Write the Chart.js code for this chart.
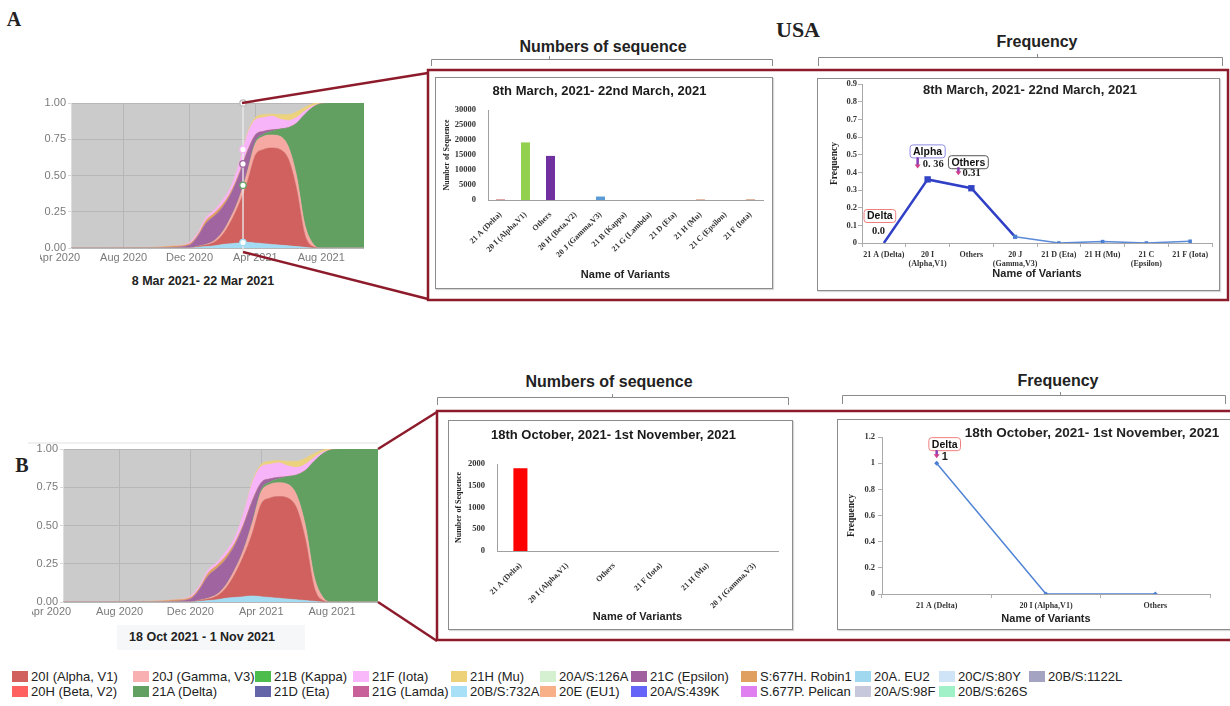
<!DOCTYPE html>
<html>
<head>
<meta charset="utf-8">
<script src="https://cdn.jsdelivr.net/npm/chart.js@4.4.1/dist/chart.umd.min.js"></script>
<style>
  body { margin: 0; background: #fff; }
  #page { position: relative; width: 1230px; height: 706px; overflow: hidden; font-family: "Liberation Sans", Arial, sans-serif; color: #222; }
  canvas { position: absolute; }
  .t { position: absolute; transform: translate(-50%, -50%); white-space: nowrap; }
  .box { position: absolute; border: 1px solid #8c8c8c; box-shadow: 1px 1px 1px rgba(0,0,0,0.15); background: #fff; }
  svg.overlay { position: absolute; left: 0; top: 0; z-index: 5; pointer-events: none; }
  .legend-item { position: absolute; font-size: 13px; line-height: 14px; white-space: nowrap; color: #222; }
  .legend-item span { display: inline-block; width: 16px; height: 11px; margin-right: 3px; vertical-align: -1px; }
  .caption-bg { position: absolute; background: #f6f7f9; }
</style>
</head>
<body>
<div id="page">
  <div class="t" style="left:14px;top:19px;font:bold 20px 'Liberation Serif',serif;">A</div>
  <div class="t" style="left:22px;top:465px;font:bold 20px 'Liberation Serif',serif;">B</div>
  <div class="t" style="left:798px;top:30px;font:bold 22px 'Liberation Serif',serif;">USA</div>
  <div class="t" style="left:603px;top:47px;font:bold 16px 'Liberation Sans',Arial;">Numbers of sequence</div>
  <div class="t" style="left:1037px;top:42px;font:bold 16px 'Liberation Sans',Arial;">Frequency</div>
  <div class="t" style="left:609px;top:382px;font:bold 16px 'Liberation Sans',Arial;">Numbers of sequence</div>
  <div class="t" style="left:1058px;top:381px;font:bold 16px 'Liberation Sans',Arial;">Frequency</div>

  <canvas id="areaA" width="340" height="175" style="left:40px;top:95px;"></canvas>
  <div class="t" style="left:203px;top:281px;font:bold 12.5px 'Liberation Sans',Arial;">8 Mar 2021- 22 Mar 2021</div>

  <div style="position:absolute;left:28px;top:442px;width:350px;height:2px;background:#eef0f2;"></div>
  <canvas id="areaB" width="358" height="184" style="left:32px;top:440px;"></canvas>
  <div class="caption-bg" style="left:117px;top:625px;width:188px;height:25px;"></div>
  <div class="t" style="left:202px;top:637px;font:bold 12.5px 'Liberation Sans',Arial;">18 Oct 2021 - 1 Nov 2021</div>

  <div class="box" style="left:435px;top:77px;width:336px;height:210px;"></div>
  <canvas id="barA" width="336" height="210" style="left:436px;top:78px;"></canvas>

  <div class="box" style="left:817px;top:78px;width:401px;height:211px;"></div>
  <canvas id="lineA" width="400" height="210" style="left:818px;top:79px;"></canvas>
  <div class="t" style="left:1030px;top:89px;font:bold 13px 'Liberation Sans',Arial;z-index:3;">8th March, 2021- 22nd March, 2021</div>

  <div class="box" style="left:448px;top:420px;width:343px;height:208px;"></div>
  <canvas id="barB" width="342" height="207" style="left:449px;top:421px;"></canvas>

  <div class="box" style="left:837px;top:419px;width:420px;height:209px;"></div>
  <canvas id="lineB" width="392" height="208" style="left:838px;top:420px;"></canvas>
  <div class="t" style="left:1092px;top:432px;font:bold 13.5px 'Liberation Sans',Arial;z-index:3;">18th October, 2021- 1st November, 2021</div>

  <svg class="overlay" width="1230" height="706">
    <g stroke="#8d1b2b" stroke-width="2.5" fill="none">
      <line x1="242" y1="103" x2="428" y2="73"/>
      <line x1="243" y1="252" x2="428" y2="299"/>
      <rect x="428" y="70" width="800" height="230"/>
      <line x1="378" y1="449" x2="437" y2="412"/>
      <line x1="378" y1="602" x2="437" y2="641"/>
      <path d="M1240 411 H437 V640 H1240"/>
    </g>
    <g stroke="#8a8a8a" stroke-width="1" fill="none">
      <path d="M431.5 66 V59.5 H772.5 V66 M549.5 59.5 V56"/>
      <path d="M818.5 66 V57.5 H1222.5 V66 M1037.5 57.5 V54"/>
      <path d="M437.5 405 V397.5 H788.5 V405 M612.5 397.5 V394"/>
      <path d="M842.5 404 V395.5 H1225.5 V404 M1060.5 395.5 V392"/>
    </g>
  </svg>

  <div id="legend"></div>
</div>

<script>
const SANS = '"Liberation Sans", Arial, sans-serif';
const SERIF = '"Liberation Serif", "Times New Roman", serif';
Chart.defaults.font.family = SANS;
Chart.defaults.animation = false;

// clade shares over time (months counted from Jan 2020)
const areaMonths   = [3.8, 6, 8, 9, 10, 11, 11.5, 12, 12.5, 13, 13.5, 14, 14.5, 15, 15.5, 16, 16.5, 17, 17.5, 18, 18.5, 19, 20, 21.6];
const areaTickMonths = [3, 7, 11, 15, 19];
const areaTickLabels = ['Apr 2020', 'Aug 2020', 'Dec 2020', 'Apr 2021', 'Aug 2021'];
const share732A    = [0, 0, 0, 0, 0, 0, 0.005, 0.01, 0.015, 0.025, 0.03, 0.035, 0.04, 0.035, 0.03, 0.025, 0.02, 0.015, 0.01, 0.005, 0, 0, 0, 0];
const shareAlpha   = [0, 0, 0, 0, 0, 0, 0.005, 0.01, 0.025, 0.065, 0.15, 0.265, 0.41, 0.605, 0.65, 0.665, 0.66, 0.60, 0.40, 0.09, 0.01, 0, 0, 0];
const shareGamma   = [0, 0, 0, 0, 0, 0, 0.002, 0.005, 0.01, 0.02, 0.03, 0.04, 0.07, 0.08, 0.09, 0.09, 0.09, 0.085, 0.09, 0.07, 0.02, 0, 0, 0];
const shareDelta   = [0, 0, 0, 0, 0, 0, 0, 0, 0, 0, 0, 0, 0.005, 0.015, 0.015, 0.025, 0.05, 0.13, 0.36, 0.755, 0.94, 0.995, 1, 1];
const shareEpsilon = [0, 0, 0, 0, 0.005, 0.02, 0.068, 0.145, 0.17, 0.17, 0.16, 0.16, 0.135, 0.045, 0.02, 0.01, 0, 0, 0, 0, 0, 0, 0, 0];
const shareRobin1  = [0, 0, 0.003, 0.005, 0.008, 0.01, 0.01, 0.02, 0.02, 0.02, 0.015, 0.01, 0.005, 0, 0, 0, 0, 0, 0, 0, 0, 0, 0, 0];
const shareIota    = [0, 0, 0, 0, 0, 0.01, 0.015, 0.02, 0.02, 0.03, 0.035, 0.07, 0.115, 0.105, 0.095, 0.095, 0.07, 0.05, 0.04, 0.025, 0.01, 0, 0, 0];
const shareMu      = [0, 0, 0, 0, 0, 0, 0, 0, 0, 0, 0, 0, 0.01, 0.015, 0.02, 0.015, 0.03, 0.04, 0.04, 0.025, 0.015, 0.005, 0, 0];
const areaSeries = [
  ['20B/S:732A', share732A, '#a3dcf2'],
  ['20I (Alpha, V1)', shareAlpha, '#d0615e'],
  ['20J (Gamma, V3)', shareGamma, '#f6a9a3'],
  ['21A (Delta)', shareDelta, '#62a062'],
  ['21C (Epsilon)', shareEpsilon, '#a064a0'],
  ['S:677H. Robin1', shareRobin1, '#e0a060'],
  ['21F (Iota)', shareIota, '#f8b4f8'],
  ['21H (Mu)', shareMu, '#ecd27c']
];
const hoverMonth = 14.25;

// sequence counts, 8-22 March 2021
const variantsA = ['21 A (Delta)', '20 I (Alpha,V1)', 'Others', '20 H (Beta,V2)', '20 J (Gamma,V3)', '21 B (Kappa)', '21 G (Lambda)', '21 D (Eta)', '21 H (Mu)', '21 C (Epsilon)', '21 F (Iota)'];
const countsA = [170, 19200, 14700, 0, 1150, 0, 0, 0, 180, 0, 200];
const barColorsA = ['#c0504d', '#92d050', '#7030a0', '#4f81bd', '#5b9bd5', '#9bbb59', '#8064a2', '#4bacc6', '#c8825a', '#f79646', '#c8825a'];

// frequency, 8-22 March 2021
const freqVariantsA = [['21 A (Delta)'], ['20 I', '(Alpha,V1)'], ['Others'], ['20 J', '(Gamma,V3)'], ['21 D (Eta)'], ['21 H (Mu)'], ['21 C', '(Epsilon)'], ['21 F (Iota)']];
const freqA = [0.0, 0.36, 0.31, 0.035, 0, 0.008, 0, 0.01];

// sequence counts and frequency, 18 Oct - 1 Nov 2021
const variantsB = ['21 A (Delta)', '20 I (Alpha,V1)', 'Others', '21 F (Iota)', '21 H (Mu)', '20 J (Gamma,V3)'];
const countsB = [1900, 0, 0, 0, 0, 0];
const freqVariantsB = ['21 A (Delta)', '20 I (Alpha,V1)', 'Others'];
const freqB = [1, 0, 0];

const legendRow1 = ['20I (Alpha, V1)', '20J (Gamma, V3)', '21B (Kappa)', '21F (Iota)', '21H (Mu)', '20A/S:126A', '21C (Epsilon)', 'S:677H. Robin1', '20A. EU2', '20C/S:80Y', '20B/S:1122L'];
const legendColors1 = ['#d0615e', '#f8b0b0', '#4cbc4c', '#f9b8f9', '#eed27a', '#d4f0d0', '#a060a0', '#e0a060', '#a0d8f0', '#d0e4f8', '#a4a4c2'];
const legendRow2 = ['20H (Beta, V2)', '21A (Delta)', '21D (Eta)', '21G (Lamda)', '20B/S:732A', '20E (EU1)', '20A/S:439K', 'S.677P. Pelican', '20A/S:98F', '20B/S:626S'];
const legendColors2 = ['#ff6060', '#62a062', '#6464a8', '#c8609a', '#a8e0f8', '#f8b088', '#6464f8', '#e080f0', '#c8c8dc', '#a0f0c8'];
const legendCols = [12, 133, 255, 353, 451, 540, 631, 741, 855, 939, 1029];

// ---------- helpers ----------
const fixY = (w) => (scale) => { scale.width = w; scale.paddingTop = 0; scale.paddingBottom = 0; };
const fixX = (h) => (scale) => { scale.height = h; scale.paddingLeft = 0; scale.paddingRight = 0; };
const serifBold = (size) => ({ family: SERIF, size: size, weight: 'bold' });

const plotBackground = {
  id: 'plotBackground',
  beforeDraw(chart, args, opts) {
    if (!opts.color) return;
    const { ctx, chartArea: a } = chart;
    ctx.save();
    ctx.fillStyle = opts.color;
    ctx.fillRect(a.left, a.top, a.right - a.left, a.bottom - a.top);
    ctx.restore();
  }
};

function shareAt(arr, month) {
  for (let i = 0; i < areaMonths.length - 1; i++) {
    if (month >= areaMonths[i] && month <= areaMonths[i + 1]) {
      const f = (month - areaMonths[i]) / (areaMonths[i + 1] - areaMonths[i]);
      return arr[i] + (arr[i + 1] - arr[i]) * f;
    }
  }
  return 0;
}

// hover guide with markers on the stacked boundaries
const hoverGuide = {
  id: 'hoverGuide',
  afterDatasetsDraw(chart, args, opts) {
    if (!opts.month) return;
    const { ctx, chartArea: a, scales: { x, y } } = chart;
    const px = x.getPixelForValue(opts.month);
    ctx.save();
    ctx.strokeStyle = 'rgba(235,235,235,0.9)';
    ctx.lineWidth = 1.5;
    ctx.beginPath();
    ctx.moveTo(px, a.top);
    ctx.lineTo(px, a.bottom + 4);
    ctx.stroke();
    let sum = 0;
    const tops = [];
    areaSeries.forEach((s, k) => {
      sum += shareAt(s[1], opts.month);
      if (opts.marks.includes(k)) tops.push([sum, s[2]]);
    });
    tops.push([1, '#ffffff']);
    tops.forEach(([v, c]) => {
      ctx.beginPath();
      ctx.arc(px, y.getPixelForValue(v), 3.2, 0, Math.PI * 2);
      ctx.fillStyle = '#ffffff';
      ctx.fill();
      ctx.strokeStyle = c === '#ffffff' ? '#bbbbbb' : c;
      ctx.lineWidth = 1.3;
      ctx.stroke();
    });
    ctx.restore();
  }
};

// labelled arrows pointing at frequency points
const callouts = {
  id: 'callouts',
  afterDatasetsDraw(chart, args, opts) {
    const items = opts.items || [];
    const { ctx } = chart;
    const meta = chart.getDatasetMeta(0);
    ctx.save();
    items.forEach(it => {
      const pt = meta.data[it.index];
      const px = pt.x, py = pt.y;
      ctx.font = 'bold 10.5px ' + SANS;
      const w = ctx.measureText(it.name).width + 6, h = 13;
      const bx = px + it.box[0] - w / 2, by = py + it.box[1] - h / 2;
      ctx.beginPath();
      ctx.roundRect(bx, by, w, h, 3);
      ctx.fillStyle = '#fff';
      ctx.fill();
      ctx.strokeStyle = it.stroke;
      ctx.lineWidth = 1;
      ctx.stroke();
      ctx.fillStyle = '#111';
      ctx.textAlign = 'center';
      ctx.textBaseline = 'middle';
      ctx.fillText(it.name, px + it.box[0], py + it.box[1] + 0.5);
      if (it.arrow) {
        const ax = px + it.arrow[0], y1 = py + it.arrow[1], y2 = py + it.arrow[2];
        ctx.strokeStyle = '#8a3cb4';
        ctx.lineWidth = 2.5;
        ctx.beginPath();
        ctx.moveTo(ax, y1);
        ctx.lineTo(ax, y2 - 3);
        ctx.stroke();
        ctx.fillStyle = '#d2408c';
        ctx.beginPath();
        ctx.moveTo(ax - 3, y2 - 4);
        ctx.lineTo(ax + 3, y2 - 4);
        ctx.lineTo(ax, y2);
        ctx.closePath();
        ctx.fill();
      }
      ctx.font = it.valueFont;
      ctx.fillStyle = '#222';
      ctx.textAlign = 'left';
      ctx.fillText(it.valueText, px + it.text[0], py + it.text[1]);
    });
    ctx.restore();
  }
};

// ---------- stacked clade share charts ----------
function makeArea(id, yW, padTop, padRight, xH, withHover) {
  const x0 = areaMonths[0], x1 = areaMonths[areaMonths.length - 1];
  return new Chart(document.getElementById(id), {
    type: 'line',
    plugins: [plotBackground, hoverGuide],
    data: {
      datasets: areaSeries.map((s, k) => ({
        label: s[0],
        data: areaMonths.map((m, i) => ({ x: m, y: s[1][i] })),
        backgroundColor: s[2],
        borderColor: s[2],
        borderWidth: 0.5,
        pointRadius: 0,
        fill: k === 0 ? 'origin' : '-1',
        cubicInterpolationMode: 'monotone'
      }))
    },
    options: {
      responsive: false,
      layout: { padding: { top: padTop, right: padRight, left: 0, bottom: 0 } },
      plugins: {
        legend: { display: false },
        tooltip: { enabled: false },
        plotBackground: { color: '#cbcbcb' },
        hoverGuide: withHover ? { month: hoverMonth, marks: [0, 3, 4, 6] } : {}
      },
      scales: {
        x: {
          type: 'linear',
          min: x0,
          max: x1,
          afterBuildTicks: (scale) => { scale.ticks = areaTickMonths.map(v => ({ value: v })); },
          afterFit: fixX(xH),
          ticks: {
            autoSkip: false, maxRotation: 0, padding: 3,
            color: '#7a7a7a', font: { size: 11 },
            callback: (v, i) => areaTickLabels[i]
          },
          grid: {
            color: (c) => (c.tick && c.tick.value < x0) ? 'rgba(0,0,0,0)' : '#b7b7b7',
            drawTicks: false
          },
          border: { display: false }
        },
        y: {
          stacked: true,
          min: 0,
          max: 1,
          afterFit: fixY(yW),
          ticks: { stepSize: 0.25, padding: 2, color: '#7a7a7a', font: { size: 11 }, callback: (v) => v.toFixed(2) },
          grid: { color: '#b7b7b7', tickLength: 3, tickColor: '#d8d8d8' },
          border: { color: '#dddddd' }
        }
      }
    }
  });
}

makeArea('areaA', 31, 8, 16, 22, true);
makeArea('areaB', 31, 9, 12, 22, false);

// ---------- sequence count bar charts ----------
function makeBar(id, labels, values, colors, title, yMax, yStep, barPct, opt) {
  return new Chart(document.getElementById(id), {
    type: 'bar',
    data: {
      labels: labels,
      datasets: [{ data: values, backgroundColor: colors, barPercentage: barPct, categoryPercentage: 1 }]
    },
    options: {
      responsive: false,
      layout: { padding: { top: 0, right: opt.padRight, left: 0, bottom: 0 } },
      plugins: {
        legend: { display: false },
        tooltip: { enabled: false },
        title: {
          display: true, text: title, color: '#1a1a1a',
          font: { size: 13, weight: 'bold', family: SANS },
          padding: { top: opt.titleTop, bottom: opt.titleBottom }
        }
      },
      scales: {
        x: {
          afterFit: fixX(opt.xH),
          ticks: { autoSkip: false, minRotation: 45, maxRotation: 45, padding: 2, color: '#333', font: serifBold(8) },
          grid: { display: false },
          border: { color: '#a0a0a0' },
          title: { display: true, text: 'Name of Variants', color: '#222', font: { size: 11, weight: 'bold', family: SANS }, padding: { top: 0, bottom: opt.xTitlePad } }
        },
        y: {
          min: 0,
          max: yMax,
          afterFit: fixY(opt.yW),
          ticks: { stepSize: yStep, padding: 4, color: '#333', font: serifBold(8.5), callback: (v) => String(v) },
          grid: { display: false },
          border: { color: '#a0a0a0' },
          title: { display: true, text: 'Number of Sequence', color: '#222', font: serifBold(8), padding: { top: opt.yTitlePad, bottom: 0 } }
        }
      }
    }
  });
}

makeBar('barA', variantsA, countsA, barColorsA, '8th March, 2021- 22nd March, 2021', 30000, 5000, 0.36,
  { padRight: 9, titleTop: 5.2, titleBottom: 11.2, xH: 88, xTitlePad: 6.4, yW: 52, yTitlePad: 6.5 });
makeBar('barB', variantsB, countsB, '#ff0000', '18th October, 2021- 1st November, 2021', 2000, 500, 0.3,
  { padRight: 13, titleTop: 6.2, titleBottom: 21.2, xH: 77, xTitlePad: 4.4, yW: 48, yTitlePad: 5.2 });

// ---------- frequency line charts ----------
function makeFreq(id, labels, values, yMax, yStep, style, callItems, opt) {
  return new Chart(document.getElementById(id), {
    type: 'line',
    plugins: [callouts],
    data: {
      labels: labels,
      datasets: [Object.assign({ data: values, tension: 0 }, style)]
    },
    options: {
      responsive: false,
      layout: { padding: { top: opt.padTop, right: opt.padRight, left: 0, bottom: 0 } },
      plugins: {
        legend: { display: false },
        tooltip: { enabled: false },
        callouts: { items: callItems }
      },
      scales: {
        x: {
          offset: true,
          afterFit: fixX(opt.xH),
          ticks: { autoSkip: false, maxRotation: 0, padding: 3, color: '#333', font: serifBold(8) },
          grid: { drawOnChartArea: false, offset: true, tickLength: 4, tickColor: '#b0b0b0' },
          border: { color: '#a8a8a8' },
          title: { display: true, text: 'Name of Variants', color: '#222', font: { size: 11, weight: 'bold', family: SANS }, padding: { top: 0, bottom: opt.xTitlePad } }
        },
        y: {
          min: 0,
          max: yMax,
          afterFit: fixY(44),
          ticks: { stepSize: yStep, padding: opt.tickPad, color: '#333', font: serifBold(8.5), callback: (v) => String(+v.toFixed(1)) },
          grid: { drawOnChartArea: false, tickLength: 4, tickColor: '#b0b0b0' },
          border: { color: '#a8a8a8' },
          title: { display: true, text: 'Frequency', color: '#222', font: serifBold(9.5), padding: { top: opt.yTitlePad, bottom: 0 } }
        }
      }
    }
  });
}

makeFreq('lineA', freqVariantsA, freqA, 0.9, 0.1, {
  borderColor: '#3040c6',
  segment: {
    borderColor: (c) => c.p0DataIndex < 3 ? '#3040c6' : '#5a8ad8',
    borderWidth: (c) => c.p0DataIndex < 3 ? 2.5 : 1.5
  },
  pointStyle: 'rect',
  pointRadius: [0, 4.5, 4.5, 3, 2.5, 2.5, 2.5, 2.5],
  pointBackgroundColor: ['#3040c6', '#3344c4', '#3344c4', '#4a7fd4', '#4a7fd4', '#4a7fd4', '#4a7fd4', '#4a7fd4'],
  pointBorderWidth: 0
}, [
  { index: 0, name: 'Delta', stroke: '#ef7f7f', box: [-4, -27], text: [-12, -12], valueText: '0.0', valueFont: 'bold 10.5px ' + SERIF },
  { index: 1, name: 'Alpha', stroke: '#8c8ce6', box: [0, -28], arrow: [-10, -22, -11], text: [-5, -15], valueText: '0. 36', valueFont: 'bold 10.5px ' + SERIF },
  { index: 2, name: 'Others', stroke: '#555555', box: [-3, -26], arrow: [-13, -21, -13], text: [-9, -15], valueText: '0.31', valueFont: 'bold 10.5px ' + SERIF }
], { padTop: 5, padRight: 6, xH: 46, xTitlePad: 8.4, tickPad: 1, yTitlePad: 11 });

makeFreq('lineB', freqVariantsB, freqB, 1.2, 0.2, {
  borderColor: '#5083d4',
  borderWidth: 1.5,
  pointStyle: 'rectRot',
  pointRadius: 2.5,
  pointBackgroundColor: '#4a7fd4',
  pointBorderWidth: 0
}, [
  { index: 0, name: 'Delta', stroke: '#ef7f7f', box: [8, -19], arrow: [0, -13, -5], text: [5, -6], valueText: '1', valueFont: 'bold 11px ' + SANS }
], { padTop: 17, padRight: 20, xH: 34, xTitlePad: 2.4, tickPad: 3, yTitlePad: 8 });

// ---------- clade legend ----------
const legend = document.getElementById('legend');
function addLegendRow(names, colors, top) {
  names.forEach((n, i) => {
    const d = document.createElement('div');
    d.className = 'legend-item';
    d.style.left = legendCols[i] + 'px';
    d.style.top = top + 'px';
    d.innerHTML = '<span style="background:' + colors[i] + '"></span>' + n;
    legend.appendChild(d);
  });
}
addLegendRow(legendRow1, legendColors1, 670);
addLegendRow(legendRow2, legendColors2, 685);
</script>
</body>
</html>
